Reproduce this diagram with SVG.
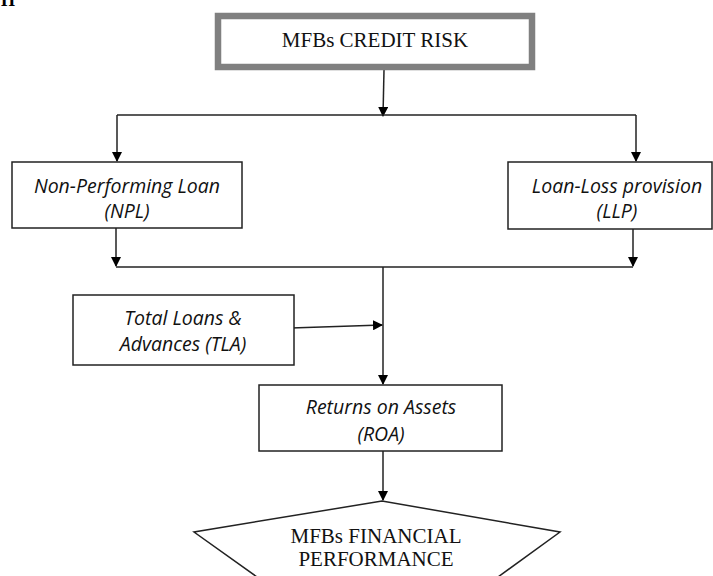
<svg xmlns="http://www.w3.org/2000/svg" width="713" height="576" viewBox="0 0 713 576">
<defs>
<marker id="ah" markerWidth="10" markerHeight="10" refX="9" refY="5" orient="auto" markerUnits="userSpaceOnUse">
<path d="M0,0 L10,5 L0,10 Z" fill="#000"/>
</marker>
<style>
.box{fill:#fff;stroke:#222;stroke-width:1.5}
.ln{fill:none;stroke:#222;stroke-width:1.5}
.ar{fill:none;stroke:#222;stroke-width:1.5;marker-end:url(#ah)}
.serif{font-family:"Liberation Serif","Times New Roman",serif;font-size:21px;fill:#111;text-anchor:middle}
.it{font-family:"Open Sans","Liberation Sans",sans-serif;font-style:italic;font-size:19.5px;fill:#111;text-anchor:middle}
</style>
</defs>
<rect width="713" height="576" fill="#fff"/>
<text x="1" y="6" font-family="Liberation Serif, serif" font-weight="bold" font-size="18" fill="#000">H</text>

<g id="connectors">
<path class="ar" d="M384,70 L383,116"/>
<path class="ln" d="M117,115 L636,115"/>
<path class="ar" d="M117,115 L117,161"/>
<path class="ar" d="M636,115 L636,161"/>
<path class="ar" d="M116,228 L116,266"/>
<path class="ar" d="M633,229 L633,266"/>
<path class="ln" d="M116,267 L633,267"/>
<path class="ar" d="M383,267 L383,384"/>
<path class="ar" d="M291,328 L382,325"/>
<path class="ar" d="M383,451 L383,500"/>
</g>

<g id="credit-risk">
<rect x="218" y="16" width="314" height="51" fill="#fff" stroke="#808080" stroke-width="6.5"/>
<text class="serif" x="375" y="47">MFBs CREDIT RISK</text>
</g>

<g id="npl">
<rect class="box" x="12" y="162" width="230" height="66"/>
<text class="it" x="127" y="193">Non-Performing Loan</text>
<text class="it" x="127" y="218">(NPL)</text>
</g>

<g id="llp">
<rect class="box" x="508" y="162" width="204" height="67"/>
<text class="it" x="617" y="193">Loan-Loss provision</text>
<text class="it" x="617" y="218">(LLP)</text>
</g>

<g id="tla">
<rect class="box" x="73" y="295" width="221" height="70"/>
<text class="it" x="183" y="325">Total Loans &amp;</text>
<text class="it" x="183" y="351">Advances (TLA)</text>
</g>

<g id="roa">
<rect class="box" x="259" y="385" width="243" height="66"/>
<text class="it" x="381" y="414">Returns on Assets</text>
<text class="it" x="381" y="441">(ROA)</text>
</g>

<g id="financial-performance">
<path class="box" d="M257,577 L194,532 L382,501 L560,532 L498,577"/>
<text class="serif" x="376" y="543">MFBs FINANCIAL</text>
<text class="serif" x="376" y="566">PERFORMANCE</text>
</g>
</svg>
